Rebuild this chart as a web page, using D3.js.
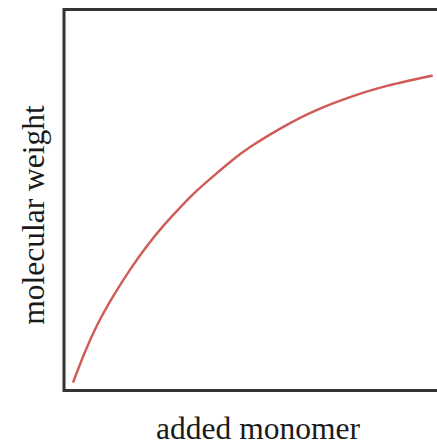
<!DOCTYPE html>
<html>
<head>
<meta charset="utf-8">
<script src="https://cdn.jsdelivr.net/npm/d3@7"></script>
<style>
  html, body { margin: 0; padding: 0; background: #fff; }
  svg { display: block; }
</style>
</head>
<body>
<svg id="chart" width="437" height="445"></svg>
<script>
// Added monomer (x) versus molecular weight (y), arbitrary units 0–10
const addedMonomer = [0.25, 0.54, 0.89, 1.34, 1.79, 2.23, 2.68, 3.13, 3.57, 4.02, 4.47, 4.99, 5.88, 6.77, 7.67, 8.56, 9.86];
const molecularWeight = [0.23, 0.96, 1.72, 2.51, 3.20, 3.80, 4.34, 4.82, 5.25, 5.64, 6.01, 6.39, 6.92, 7.36, 7.70, 7.97, 8.26];
const xLabel = "added monomer";
const yLabel = "molecular weight";

const svg = d3.select("#chart");
const plotLeft = 64, plotRight = 437, plotTop = 9.5, plotBottom = 390.5;

const x = d3.scaleLinear().domain([0, 10]).range([plotLeft, plotRight]);
const y = d3.scaleLinear().domain([0, 10]).range([plotBottom, plotTop]);

// Frame: left, top and bottom edges; the right side runs off the page
const frame = d3.path();
frame.moveTo(x(10) + 10, y(10));
frame.lineTo(x(0), y(10));
frame.lineTo(x(0), y(0));
frame.lineTo(x(10) + 10, y(0));
svg.append("path")
  .attr("d", frame.toString())
  .attr("fill", "none")
  .attr("stroke", "#333")
  .attr("stroke-width", 3);

const pts = addedMonomer.map((v, i) => [v, molecularWeight[i]]);
const line = d3.line()
  .x(d => x(d[0]))
  .y(d => y(d[1]))
  .curve(d3.curveNatural);

svg.append("path")
  .datum(pts)
  .attr("d", line)
  .attr("fill", "none")
  .attr("stroke", "#cf5b56")
  .attr("stroke-width", 2.4)
  .attr("stroke-linecap", "round");

svg.append("text")
  .attr("x", 258)
  .attr("y", 439)
  .attr("text-anchor", "middle")
  .attr("font-family", "'Liberation Serif', 'DejaVu Serif', serif")
  .attr("font-size", 31.5)
  .attr("fill", "#1a1a1a")
  .text(xLabel);

svg.append("text")
  .attr("transform", "translate(44,215) rotate(-90)")
  .attr("text-anchor", "middle")
  .attr("font-family", "'Liberation Serif', 'DejaVu Serif', serif")
  .attr("font-size", 31.5)
  .attr("fill", "#1a1a1a")
  .text(yLabel);
</script>
</body>
</html>
